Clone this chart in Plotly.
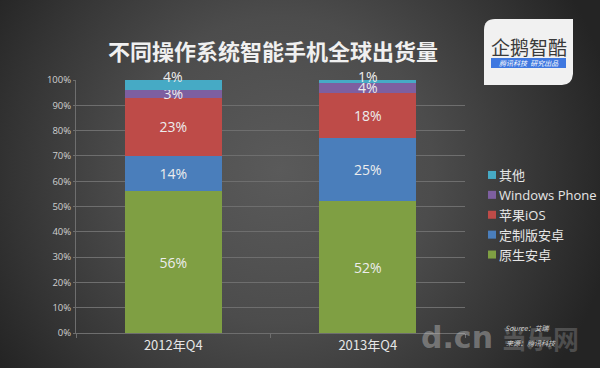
import base64
import plotly.graph_objects as go

categories = ["2012年Q4", "2013年Q4"]
native_android = [56, 52]
custom_android = [14, 25]
apple_ios = [23, 18]
windows_phone = [3, 4]
others = [4, 1]
series_names = ["原生安卓", "定制版安卓", "苹果iOS", "Windows Phone", "其他"]
series_values = [native_android, custom_android, apple_ios, windows_phone, others]
series_colors = ["#7F9F43", "#4A7EBB", "#BE4B48", "#7D5FA0", "#46AAC5"]
tick_values = list(range(0, 101, 10))
tick_labels = [f"{v}%" for v in tick_values]

FONT = "Open Sans, Noto Sans CJK SC, sans-serif"
CJK = "Noto Sans CJK SC, sans-serif"

bg_svg = """<svg xmlns='http://www.w3.org/2000/svg' width='600' height='368'>
<defs><radialGradient id='g' gradientUnits='userSpaceOnUse' cx='280' cy='170' r='340'>
<stop offset='0' stop-color='#5a5a5a'/><stop offset='0.45' stop-color='#4c4c4c'/>
<stop offset='0.8' stop-color='#333333'/><stop offset='1' stop-color='#242424'/>
</radialGradient></defs><rect width='600' height='368' fill='url(#g)'/></svg>"""
bg_uri = "data:image/svg+xml;base64," + base64.b64encode(bg_svg.encode()).decode()

fig = go.Figure()
for name, vals, color in zip(series_names, series_values, series_colors):
    is_top = name == "其他"
    fig.add_trace(go.Bar(
        name=name, x=categories, y=vals,
        marker=dict(color=color, line=dict(width=0)),
        text=None if is_top else [f"{v}%" for v in vals],
        textposition="inside", insidetextanchor="middle", constraintext="none",
        textangle=0, textfont=dict(color="#EDEDED", size=14, family=FONT),
        hoverinfo="skip",
    ))

annotations = []
for c, v in zip(categories, others):
    annotations.append(dict(x=c, y=100, xref="x", yref="y", text=f"{v}%", showarrow=False,
                            yshift=4, font=dict(color="#EDEDED", size=14, family=FONT)))


def note(x, y, text, size, color, family=CJK):
    annotations.append(dict(x=x, y=y, xref="paper", yref="paper", text=text, showarrow=False,
                            xanchor="center", yanchor="middle",
                            font=dict(size=size, color=color, family=family)))


PX = lambda px: (px - 76) / 389
PY = lambda py: (333 - py) / 253

note(PX(273), PY(50), "<b>不同操作系统智能手机全球出货量</b>", 22, "#F0F0F0")
note(PX(529), PY(46), "企鹅智酷", 19, "#3a3a3a")
note(PX(529), PY(63), "<i>腾讯科技  研究出品</i>", 7, "#FFFFFF")
note(PX(457), PY(337), "<b>d.cn</b>", 30, "rgba(200,200,200,0.42)", family="DejaVu Sans")
note(PX(540), PY(337), "<b>当乐网</b>", 26, "rgba(200,200,200,0.25)")
note(PX(527), PY(328), "<i>Source：艾瑞</i>", 7, "rgba(235,235,235,0.85)")
note(PX(531), PY(343), "<i>来源：腾讯科技</i>", 7, "rgba(235,235,235,0.85)")

shapes = [
    dict(type="path", xref="paper", yref="paper", layer="below",
         path=f"M {PX(495)} {PY(19)} L {PX(573)} {PY(19)} L {PX(573)} {PY(74)} "
              f"Q {PX(572)} {PY(85)} {PX(562)} {PY(85)} L {PX(484)} {PY(85)} "
              f"L {PX(484)} {PY(30)} Q {PX(484)} {PY(19)} {PX(495)} {PY(19)} Z",
         fillcolor="#F1F1F1", line=dict(width=0)),
    dict(type="rect", xref="paper", yref="paper", layer="below",
         x0=PX(491), x1=PX(566), y0=PY(58), y1=PY(68),
         fillcolor="#3F78E0", line=dict(width=0)),
]

fig.update_layout(
    width=600, height=368, autosize=False,
    margin=dict(l=76, r=135, t=80, b=35, autoexpand=False),
    barmode="stack", bargap=0.5,
    paper_bgcolor="#444444", plot_bgcolor="rgba(0,0,0,0)",
    font=dict(family=FONT, color="#E0E0E0"),
    images=[dict(source=bg_uri, xref="paper", yref="paper", x=PX(0), y=PY(0),
                 sizex=600 / 389, sizey=368 / 253, xanchor="left", yanchor="top",
                 sizing="stretch", layer="below")],
    xaxis=dict(type="category", tickson="boundaries", ticks="outside", ticklen=4,
               tickcolor="#6E6E6E", linecolor="#6E6E6E", showline=True, showgrid=False,
               tickfont=dict(size=13, color="#E6E6E6", family=CJK)),
    yaxis=dict(range=[0, 100], tickvals=tick_values, ticktext=tick_labels, ticks="outside",
               ticklen=2, tickcolor="#6E6E6E", linecolor="#6E6E6E", showline=True,
               gridcolor="#6E6E6E", gridwidth=1, zeroline=False,
               tickfont=dict(size=9.5, color="#D0D0D0", family=FONT)),
    legend=dict(x=PX(459), y=PY(160), xanchor="left", yanchor="top", traceorder="reversed",
                bgcolor="rgba(0,0,0,0)", font=dict(size=13, color="#E6E6E6", family=FONT)),
    annotations=annotations, shapes=shapes,
)
post = """
document.body.style.margin = '0';
document.body.style.background = '#333';
document.querySelectorAll('.legendpoints path').forEach(function (p) {
  p.setAttribute('d', 'M4,4H-4V-4H4Z');
  p.setAttribute('transform', 'translate(33,0)');
});
"""
fig.write_html("out.html", config={"displayModeBar": False}, post_script=post)
